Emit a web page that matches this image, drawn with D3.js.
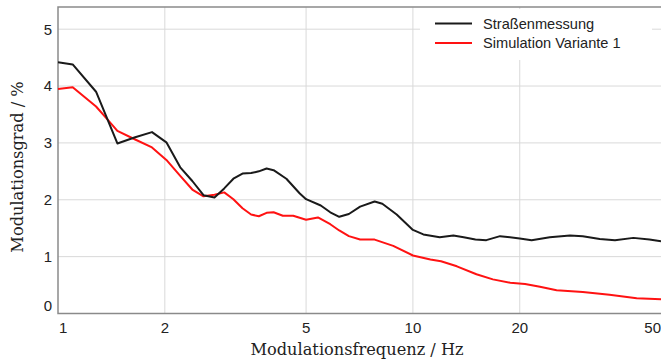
<!DOCTYPE html>
<html>

<head>
    <meta charset="utf-8">
    <script src="https://d3js.org/d3.v7.min.js"></script>
    <style>
        body { margin: 0; background: #fff; }
        svg { display: block; }
    </style>
</head>

<body>
    <script>
        // Straßenmessung (black)
        var freqMess = [1, 1.10, 1.28, 1.47, 1.65, 1.84, 2.02, 2.21, 2.39, 2.57, 2.76, 2.94, 3.12, 3.31, 3.5, 3.68, 3.87, 4.05, 4.4, 4.8,
            5.0, 5.5, 5.85, 6.2, 6.6, 7.1, 7.8, 8.2, 9.0, 10.0, 10.7, 11.9, 13.0, 13.9, 15.0, 16.1, 17.6, 20, 21.6, 24.3,
            27.7, 30.1, 33.6, 37.1, 41.8, 46.4, 50];
        var valMess = [4.42, 4.38, 3.90, 2.99, 3.10, 3.19, 3.01, 2.57, 2.33, 2.08, 2.04, 2.20, 2.37, 2.46, 2.47, 2.50, 2.55, 2.52, 2.37, 2.11,
            2.01, 1.90, 1.78, 1.70, 1.75, 1.88, 1.97, 1.93, 1.74, 1.47, 1.39, 1.34, 1.37, 1.34, 1.30, 1.29, 1.36, 1.32, 1.29, 1.34,
            1.37, 1.36, 1.31, 1.29, 1.33, 1.30, 1.27];

        // Simulation Variante 1 (red)
        var freqSim = [1, 1.10, 1.28, 1.37, 1.47, 1.65, 1.84, 2.02, 2.21, 2.39, 2.57, 2.76, 2.94, 3.12, 3.31, 3.5, 3.68, 3.87, 4.05, 4.3,
            4.6, 5.0, 5.4, 5.85, 6.2, 6.6, 7.1, 7.8, 8.8, 10.0, 11.2, 12.0, 13.3, 15.1, 16.8, 18.8, 20.7, 22.8, 25.4, 30.1,
            35.8, 42.7, 50];
        var valSim = [3.95, 3.98, 3.64, 3.43, 3.21, 3.06, 2.92, 2.70, 2.42, 2.18, 2.06, 2.09, 2.13, 2.01, 1.85, 1.74, 1.71, 1.77, 1.78, 1.72,
            1.72, 1.65, 1.69, 1.57, 1.46, 1.36, 1.30, 1.30, 1.19, 1.02, 0.95, 0.92, 0.83, 0.69, 0.60, 0.54, 0.52, 0.47, 0.41, 0.38,
            0.33, 0.27, 0.25];

        var xTicks = [1, 2, 5, 10, 20, 50];
        var yTicks = [0, 1, 2, 3, 4, 5];
        var seriesNames = ["Straßenmessung", "Simulation Variante 1"];
        var seriesColors = ["#1a1a1a", "#ff1212"];
    </script>
    <script>
        var outerWidth = 661, outerHeight = 363,
            margin = { top: 7, right: 0, bottom: 49.5, left: 58 },
            svg = d3.select("body").append("svg").attr("width", outerWidth).attr("height", outerHeight);

        var width = outerWidth - margin.left - margin.right,
            height = outerHeight - margin.top - margin.bottom,
            g = svg.append("g").attr("transform", "translate(" + margin.left + "," + margin.top + ")");

        var xScale = d3.scaleLog()
            .domain([1, 50])
            .range([0, width]);

        var yScale = d3.scaleLinear()
            .domain([0, 5.39])
            .range([height, 0]);

        var tickFont = "'Liberation Sans', Arial, sans-serif",
            titleFont = "'DejaVu Serif', Cambria, serif";

        // grid
        g.append("g").selectAll("line.hgrid")
            .data(yTicks.slice(1))
            .enter().append("line")
            .attr("x1", 0).attr("x2", width)
            .attr("y1", function (d) { return yScale(d); })
            .attr("y2", function (d) { return yScale(d); })
            .attr("stroke", "#d9d9d9").attr("stroke-width", 1);

        g.append("g").selectAll("line.vgrid")
            .data(xTicks.slice(1, -1))
            .enter().append("line")
            .attr("x1", function (d) { return xScale(d); })
            .attr("x2", function (d) { return xScale(d); })
            .attr("y1", 0).attr("y2", height)
            .attr("stroke", "#d9d9d9").attr("stroke-width", 1);

        // frame: left, bottom, top
        g.append("path")
            .attr("d", "M" + width + ",0H0V" + height + "H" + width)
            .attr("fill", "none")
            .attr("stroke", "#8a8a8a")
            .attr("stroke-width", 1.5);

        // tick labels
        g.append("g").selectAll("text")
            .data(yTicks)
            .enter().append("text")
            .attr("x", -6)
            .attr("y", function (d) { return Math.min(yScale(d), height - 7.5); })
            .attr("dy", "0.36em")
            .attr("text-anchor", "end")
            .attr("font-family", tickFont)
            .attr("font-size", 15)
            .attr("fill", "#222")
            .text(function (d) { return d; });

        g.append("g").selectAll("text")
            .data(xTicks)
            .enter().append("text")
            .attr("x", function (d, i) { return xScale(d) + (i === 0 ? 1 : 0); })
            .attr("y", height + 19.5)
            .attr("text-anchor", function (d, i) { return i === 0 ? "start" : (i === xTicks.length - 1 ? "end" : "middle"); })
            .attr("font-family", tickFont)
            .attr("font-size", 15)
            .attr("fill", "#222")
            .text(function (d) { return d; });

        // axis titles
        svg.append("text")
            .attr("x", 357)
            .attr("y", 355)
            .attr("text-anchor", "middle")
            .attr("font-family", titleFont)
            .attr("font-size", 16.2)
            .attr("fill", "#222")
            .text("Modulationsfrequenz / Hz");

        svg.append("text")
            .attr("transform", "translate(23,167) rotate(-90)")
            .attr("text-anchor", "middle")
            .attr("font-family", titleFont)
            .attr("font-size", 16.2)
            .attr("fill", "#222")
            .text("Modulationsgrad / %");

        // lines
        var lineGenerator = d3.line()
            .x(function (d) { return xScale(d.f); })
            .y(function (d) { return yScale(d.v); });

        var series = [
            freqMess.map(function (f, i) { return { f: f, v: valMess[i] }; }),
            freqSim.map(function (f, i) { return { f: f, v: valSim[i] }; })
        ];

        // draw the red one first so black sits on top
        g.selectAll("path.data")
            .data([series[1], series[0]])
            .enter().append("path")
            .attr("class", "data")
            .attr("fill", "none")
            .attr("stroke", function (d, i) { return i === 0 ? seriesColors[1] : seriesColors[0]; })
            .attr("stroke-width", 2)
            .attr("stroke-linejoin", "round")
            .attr("d", lineGenerator);

        // legend
        var legend = svg.append("g").attr("transform", "translate(420,9)");
        legend.append("rect")
            .attr("width", 232).attr("height", 51)
            .attr("fill", "#fff");

        var item = legend.selectAll("g.item")
            .data(seriesNames)
            .enter().append("g")
            .attr("class", "item")
            .attr("transform", function (d, i) { return "translate(0," + (14.5 + i * 19.5) + ")"; });

        item.append("line")
            .attr("x1", 15).attr("x2", 52)
            .attr("stroke", function (d, i) { return seriesColors[i]; })
            .attr("stroke-width", 2);

        item.append("text")
            .attr("x", 63)
            .attr("dy", "0.36em")
            .attr("font-family", tickFont)
            .attr("font-size", 14.6)
            .attr("fill", "#222")
            .text(function (d) { return d; });
    </script>
</body>

</html>
